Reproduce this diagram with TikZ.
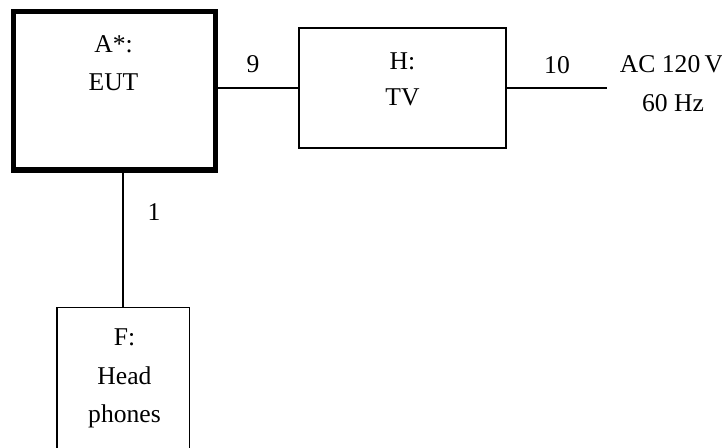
\documentclass[tikz,border=0pt]{standalone}
\usepackage{fontspec}
\setmainfont{Liberation Serif}
\begin{document}
\begin{tikzpicture}[x=0.5pt,y=-0.5pt,
  box/.style={draw=black,line width=0.9pt,fill=none,inner sep=0pt,outer sep=0pt},
  eutbox/.style={box,line width=2.6pt},
  wire/.style={draw=black,line width=0.9pt},
  txt/.style={anchor=base,inner sep=0pt,font=\fontsize{12.8}{15}\selectfont}]
\useasboundingbox (0,0) rectangle (722,448);
% boxes
\node[eutbox,minimum width=100.85pt,minimum height=79.35pt] (A) at (114.65,90.65) {};
\node[box,minimum width=103.5pt,minimum height=60pt] (H) at (402.5,88) {};
\node[box,minimum width=66.25pt,minimum height=90pt] (F) at (123.25,397.5) {};
\coordinate (ac) at (607,88);
% texts
\node[txt] (a1) at (113.5,53) {A*:};
\node[txt] (a2) at (113.5,90.5) {EUT};
\node[txt] (h1) at (402.5,69.5) {H:};
\node[txt] (h2) at (402.5,106) {TV};
\node[txt] (f1) at (124.5,346) {F:};
\node[txt] (f2) at (124.5,385) {Head};
\node[txt] (f3) at (124.5,422) {phones};
\node[txt] (l9) at (253,72.5) {9};
\node[txt] (l10) at (557,73.5) {10};
\node[txt] (l1) at (154,220.5) {1};
\node[txt] (acv) at (671.5,72.7) {AC 120\,V};
\node[txt] (hz) at (673,111.7) {60 Hz};
% connectors
\draw[wire] (A.east |- H.west) -- (H.west);
\draw[wire] (H.east) -- (ac);
\draw[wire] (F.north |- A.south) -- (F.north);
\end{tikzpicture}
\end{document}
